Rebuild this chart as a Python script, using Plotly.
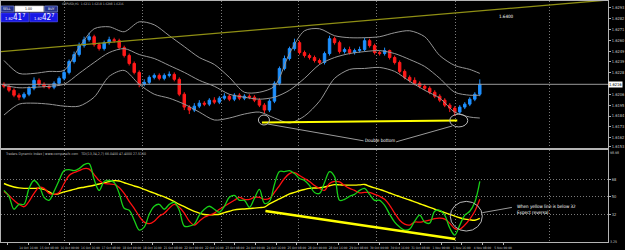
import numpy as np
import plotly.graph_objects as go

# ---------------- data: price panel (GBPUSD) ----------------
open_ = [1.6216, 1.6214, 1.6210, 1.6205, 1.6203, 1.6206, 1.6212, 1.6220, 1.6216, 1.6214,
         1.6213, 1.6217, 1.6222, 1.6228, 1.6239, 1.6246, 1.6255, 1.6261, 1.6264, 1.6256,
         1.6252, 1.6258, 1.6261, 1.6260, 1.6253, 1.6245, 1.6237, 1.6228, 1.6216, 1.6218,
         1.6223, 1.6225, 1.6222, 1.6225, 1.6226, 1.6221, 1.6206, 1.6193, 1.6190, 1.6194,
         1.6197, 1.6196, 1.6200, 1.6198, 1.6202, 1.6204, 1.6201, 1.6205, 1.6202, 1.6204,
         1.6203, 1.6200, 1.6195, 1.6190, 1.6199, 1.6217, 1.6232, 1.6242, 1.6252, 1.6258,
         1.6248, 1.6245, 1.6243, 1.6240, 1.6238, 1.6247, 1.6262, 1.6258, 1.6249, 1.6251,
         1.6248, 1.6250, 1.6251, 1.6260, 1.6255, 1.6248, 1.6247, 1.6250, 1.6243, 1.6238,
         1.6229, 1.6223, 1.6220, 1.6217, 1.6214, 1.6212, 1.6208, 1.6204, 1.6200, 1.6195,
         1.6192, 1.6188, 1.6193, 1.6196, 1.6201, 1.6206]
close = [1.6214, 1.6210, 1.6205, 1.6203, 1.6206, 1.6212, 1.6220, 1.6216, 1.6214, 1.6213,
         1.6217, 1.6222, 1.6228, 1.6239, 1.6246, 1.6255, 1.6261, 1.6264, 1.6256, 1.6252,
         1.6258, 1.6261, 1.6260, 1.6253, 1.6245, 1.6237, 1.6228, 1.6216, 1.6218, 1.6223,
         1.6225, 1.6222, 1.6225, 1.6226, 1.6221, 1.6206, 1.6193, 1.6190, 1.6194, 1.6197,
         1.6196, 1.6200, 1.6198, 1.6202, 1.6204, 1.6201, 1.6205, 1.6202, 1.6204, 1.6203,
         1.6200, 1.6195, 1.6190, 1.6199, 1.6217, 1.6232, 1.6242, 1.6252, 1.6258, 1.6248,
         1.6245, 1.6243, 1.6240, 1.6238, 1.6247, 1.6262, 1.6258, 1.6249, 1.6251, 1.6248,
         1.6250, 1.6251, 1.6260, 1.6255, 1.6248, 1.6247, 1.6250, 1.6243, 1.6238, 1.6229,
         1.6223, 1.6220, 1.6217, 1.6214, 1.6212, 1.6208, 1.6204, 1.6200, 1.6195, 1.6192,
         1.6188, 1.6193, 1.6196, 1.6201, 1.6206, 1.6216]
high = [1.6218, 1.6216, 1.6212, 1.6207, 1.6208, 1.6214, 1.6223, 1.6222, 1.6218, 1.6216,
        1.6219, 1.6224, 1.6231, 1.6241, 1.6249, 1.6258, 1.6264, 1.6268, 1.6266, 1.6258,
        1.6260, 1.6264, 1.6263, 1.6262, 1.6255, 1.6247, 1.6239, 1.6230, 1.6221, 1.6225,
        1.6227, 1.6227, 1.6227, 1.6229, 1.6228, 1.6223, 1.6208, 1.6195, 1.6197, 1.6200,
        1.6199, 1.6202, 1.6203, 1.6204, 1.6207, 1.6206, 1.6207, 1.6207, 1.6206, 1.6206,
        1.6205, 1.6202, 1.6197, 1.6201, 1.6219, 1.6234, 1.6245, 1.6254, 1.6262, 1.6260,
        1.6250, 1.6247, 1.6245, 1.6242, 1.6249, 1.6265, 1.6264, 1.6260, 1.6253, 1.6254,
        1.6252, 1.6254, 1.6263, 1.6262, 1.6257, 1.6250, 1.6253, 1.6251, 1.6245, 1.6240,
        1.6231, 1.6225, 1.6223, 1.6219, 1.6216, 1.6214, 1.6210, 1.6206, 1.6202, 1.6197,
        1.6194, 1.6195, 1.6198, 1.6203, 1.6208, 1.6221]
low = [1.6212, 1.6208, 1.6203, 1.6200, 1.6201, 1.6204, 1.6210, 1.6214, 1.6212, 1.6211,
       1.6211, 1.6215, 1.6220, 1.6226, 1.6237, 1.6244, 1.6253, 1.6259, 1.6254, 1.6250,
       1.6250, 1.6256, 1.6258, 1.6251, 1.6243, 1.6235, 1.6226, 1.6213, 1.6214, 1.6216,
       1.6221, 1.6220, 1.6220, 1.6223, 1.6219, 1.6204, 1.6190, 1.6186, 1.6188, 1.6192,
       1.6194, 1.6194, 1.6196, 1.6196, 1.6200, 1.6199, 1.6199, 1.6200, 1.6200, 1.6201,
       1.6198, 1.6193, 1.6187, 1.6188, 1.6197, 1.6215, 1.6230, 1.6240, 1.6250, 1.6246,
       1.6243, 1.6241, 1.6238, 1.6236, 1.6236, 1.6245, 1.6256, 1.6247, 1.6247, 1.6246,
       1.6246, 1.6248, 1.6249, 1.6253, 1.6246, 1.6245, 1.6245, 1.6241, 1.6236, 1.6227,
       1.6221, 1.6218, 1.6215, 1.6212, 1.6210, 1.6206, 1.6202, 1.6198, 1.6193, 1.6188,
       1.6184, 1.6186, 1.6191, 1.6194, 1.6199, 1.6204]

# Bollinger bands read every third bar
bb_x = [0, 3, 6, 9, 12, 15, 18, 21, 24, 27, 30, 33, 36, 39, 42, 45, 48, 51, 54, 57,
        60, 63, 66, 69, 72, 75, 78, 81, 84, 87, 90, 93, 95]
bb_upper = [1.6240, 1.6227, 1.6227, 1.6229, 1.6230, 1.6253, 1.6272, 1.6274, 1.6269, 1.6279,
            1.6276, 1.6265, 1.6254, 1.6243, 1.6236, 1.6223, 1.6208, 1.6208, 1.6214, 1.6247,
            1.6270, 1.6272, 1.6265, 1.6263, 1.6263, 1.6264, 1.6268, 1.6270, 1.6264, 1.6245,
            1.6235, 1.6231, 1.6227]
bb_mid = [1.6215, 1.62125, 1.6213, 1.6214, 1.6216, 1.6227, 1.6238, 1.6248, 1.6252, 1.6246,
          1.6242, 1.6235, 1.6228, 1.6220, 1.6214, 1.6206, 1.6203, 1.6201, 1.6203, 1.6210,
          1.6222, 1.6236, 1.6243, 1.6247, 1.6249, 1.6250, 1.6247, 1.6241, 1.6234, 1.6222,
          1.6208, 1.6205, 1.6205]
bb_lower = [1.6185, 1.6196, 1.6197, 1.6196, 1.6194, 1.6194, 1.6203, 1.6224, 1.6230, 1.6216,
            1.6206, 1.6202, 1.6196, 1.6188, 1.6180, 1.6182, 1.6186, 1.6188, 1.6182, 1.6177,
            1.6184, 1.6199, 1.6222, 1.6231, 1.6232, 1.6233, 1.6229, 1.6219, 1.6210, 1.6202,
            1.6188, 1.6183, 1.6182]

# drawn objects on the price panel
trend_x = [-0.6, 120.6]
trend_y = [1.6249, 1.6301]
dbottom_x = [51.5, 90.5]
dbottom_y = [1.61775, 1.61795]
current_price = 1.6216
price_ticks = [1.6293, 1.6282, 1.6271, 1.6260, 1.6249, 1.6239, 1.6228,
               1.6206, 1.6195, 1.6184, 1.6173, 1.6162, 1.6153]

# ---------------- data: Traders Dynamic Index ----------------
tdi_green = [56.7, 50.5, 37.1, 42.2, 42.2, 58.8, 67.0, 61.8, 49.5, 46.4,
             55.7, 67.0, 77.3, 78.4, 77.3, 79.4, 83.5, 84.6, 68.0, 56.7,
             66.0, 67.0, 64.9, 53.6, 38.1, 36.0, 25.7, 15.4, 18.5, 31.9,
             40.2, 42.2, 37.1, 42.2, 44.3, 36.0, 19.5, 19.5, 21.6, 30.9,
             37.1, 40.2, 37.1, 34.0, 40.2, 49.5, 51.5, 46.4, 46.4, 39.1,
             48.4, 57.7, 43.3, 45.3, 62.9, 76.3, 76.3, 77.3, 74.2, 69.1,
             67.0, 61.8, 54.6, 53.6, 64.9, 76.3, 71.1, 46.4, 47.4, 50.5,
             52.6, 56.7, 58.8, 52.6, 46.4, 46.4, 41.2, 31.9, 23.7, 18.5,
             15.4, 16.4, 24.7, 30.9, 23.7, 22.6, 35.0, 36.0, 30.9, 17.5,
             10.2, 20.6, 30.9, 35.0, 44.3, 66.0]
tdi_red = [55.7, 51.5, 46.4, 42.2, 39.7, 45.3, 53.6, 59.8, 58.8, 53.6,
           52.6, 54.6, 63.9, 72.2, 75.3, 77.3, 79.4, 78.9, 73.2, 67.0,
           63.9, 63.4, 62.9, 59.8, 53.6, 45.3, 38.1, 29.9, 23.7, 22.1,
           24.7, 29.9, 33.0, 38.1, 42.2, 39.1, 33.0, 24.7, 20.6, 24.7,
           28.8, 30.9, 33.0, 37.1, 40.2, 43.3, 46.4, 49.5, 47.4, 47.4,
           49.5, 49.5, 47.4, 48.4, 54.6, 61.8, 69.1, 74.2, 75.3, 72.2,
           69.1, 66.0, 61.8, 58.8, 56.7, 63.9, 66.0, 65.5, 61.8, 58.8,
           56.7, 54.1, 54.6, 54.6, 52.6, 50.5, 47.4, 41.2, 33.0, 25.7,
           21.6, 20.6, 23.7, 23.7, 24.7, 25.7, 27.3, 27.8, 26.8, 22.6,
           17.0, 16.4, 20.6, 26.8, 35.0, 47.4]
tdi_yellow = [63.9, 61.8, 60.3, 59.3, 58.8, 58.8, 58.8, 58.8, 57.7, 55.1,
              52.6, 53.3, 55.1, 56.4, 57.7, 59.2, 60.0, 61.0, 62.1, 63.4,
              64.6, 65.8, 66.8, 66.5, 64.7, 62.9, 61.3, 59.8, 57.7, 55.7,
              53.8, 51.8, 50.0, 47.7, 45.0, 42.2, 39.8, 37.1, 34.8, 33.0,
              31.6, 31.2, 31.6, 31.9, 33.5, 35.0, 36.4, 37.1, 37.4, 37.8,
              38.3, 38.8, 39.3, 42.7, 45.3, 47.8, 50.5, 53.1, 54.6, 56.3,
              57.7, 58.8, 59.2, 59.4, 60.3, 61.6, 62.7, 62.5, 62.2, 62.2,
              62.2, 62.5, 62.9, 61.0, 59.3, 57.7, 56.0, 54.0, 52.0, 50.2,
              48.4, 46.7, 44.7, 42.8, 41.0, 39.1, 37.1, 35.3, 33.6, 31.8,
              29.9, 28.2, 26.8, 26.1, 25.7, 27.5]
diverg_x = [52.2, 90.1]
diverg_y = [35.3, 6.1]
tdi_levels = [32, 50, 68]

time_labels = ["14 Oct 2013", "14 Oct 16:00", "15 Oct 08:00", "16 Oct 00:00", "16 Oct 16:00",
               "17 Oct 08:00", "18 Oct 00:00", "18 Oct 16:00", "21 Oct 08:00", "22 Oct 00:00",
               "22 Oct 16:00", "23 Oct 08:00", "24 Oct 00:00", "24 Oct 16:00", "25 Oct 08:00",
               "28 Oct 00:00", "28 Oct 16:00", "29 Oct 08:00", "30 Oct 00:00", "30 Oct 16:00",
               "31 Oct 08:00", "1 Nov 00:00", "1 Nov 16:00", "4 Nov 08:00", "5 Nov 00:00"]

# ---------------- layout geometry ----------------
W, H = 625, 250
ML, MR, MT, MB = 0, 13, 0, 7
PW, PH = W - ML - MR, H - MT - MB
BAR_PX = 5.05
X0 = -3 / BAR_PX
X1 = X0 + PW / BAR_PX
bars = list(range(len(close)))
grid_idx = [(p - 3) / BAR_PX for p in (64, 143, 222, 300, 379, 458, 553)]
label_pos = [(7 + 20.8 * k - 3) / BAR_PX for k in range(len(time_labels))]


def px(x):
    return (x - ML) / PW


def py(y):
    return 1 - (y - MT) / PH


FONT = "Liberation Sans Narrow, DejaVu Sans Condensed, Liberation Sans, sans-serif"
AXC = "#c8c8c8"
GRID = "#7a7a7a"
GDASH = "1px,2px"

fig = go.Figure()

fig.add_trace(go.Candlestick(
    x=bars, open=open_, high=high, low=low, close=close,
    increasing=dict(line=dict(color="#1e90ff", width=1), fillcolor="#1e90ff"),
    decreasing=dict(line=dict(color="#ff1a1a", width=1), fillcolor="#ff1a1a"),
    whiskerwidth=0, xaxis="x", yaxis="y", showlegend=False, hoverinfo="skip"))

for band in (bb_upper, bb_mid, bb_lower):
    fig.add_trace(go.Scatter(x=bb_x, y=band, mode="lines", xaxis="x", yaxis="y",
                             line=dict(color="#969696", width=1, shape="spline", smoothing=0.8),
                             showlegend=False, hoverinfo="skip"))

fig.add_trace(go.Scatter(x=trend_x, y=trend_y, mode="lines", xaxis="x", yaxis="y",
                         line=dict(color="#8f8f14", width=1.3), showlegend=False, hoverinfo="skip"))
fig.add_trace(go.Scatter(x=dbottom_x, y=dbottom_y, mode="lines", xaxis="x", yaxis="y",
                         line=dict(color="#ffff00", width=2), showlegend=False, hoverinfo="skip"))

fig.add_trace(go.Scatter(x=bars, y=tdi_yellow, mode="lines", xaxis="x2", yaxis="y2",
                         line=dict(color="#ffff00", width=1.4, shape="spline"),
                         showlegend=False, hoverinfo="skip"))
fig.add_trace(go.Scatter(x=bars, y=tdi_red, mode="lines", xaxis="x2", yaxis="y2",
                         line=dict(color="#ff1010", width=1.3, shape="spline"),
                         showlegend=False, hoverinfo="skip"))
fig.add_trace(go.Scatter(x=bars, y=tdi_green, mode="lines", xaxis="x2", yaxis="y2",
                         line=dict(color="#18d018", width=1.3, shape="spline"),
                         showlegend=False, hoverinfo="skip"))
fig.add_trace(go.Scatter(x=diverg_x, y=diverg_y, mode="lines", xaxis="x2", yaxis="y2",
                         line=dict(color="#ffff00", width=2.5), showlegend=False, hoverinfo="skip"))

top_dom = [py(148), 1]
bot_dom = [0, py(150)]

axis_common = dict(range=[X0, X1], showline=True, mirror=True, linecolor="#b4b4b4",
                   linewidth=1, zeroline=False, fixedrange=True)

fig.update_layout(
    width=W, height=H, autosize=False,
    margin=dict(l=ML, r=MR, t=MT, b=MB, pad=0),
    paper_bgcolor="#000000", plot_bgcolor="#000000",
    font=dict(family=FONT, color=AXC, size=4),
    xaxis=dict(domain=[0, 1], anchor="y", tickvals=grid_idx, showticklabels=False, ticks="",
               showgrid=True, gridcolor=GRID, griddash=GDASH, gridwidth=1,
               rangeslider=dict(visible=False), **axis_common),
    yaxis=dict(domain=top_dom, anchor="x", side="right", range=[1.6152, 1.6300],
               tickvals=price_ticks, ticktext=[f"{v:.4f}" for v in price_ticks],
               tickfont=dict(size=4, color=AXC, family=FONT), ticks="outside", ticklen=2,
               tickcolor="#b4b4b4", showgrid=False, showline=True, mirror=True,
               linecolor="#b4b4b4", zeroline=False, fixedrange=True),
    xaxis2=dict(domain=[0, 1], anchor="y2", tickvals=label_pos, ticktext=time_labels,
                tickfont=dict(size=3.2, color=AXC, family=FONT), ticks="outside", ticklen=2,
                tickcolor="#b4b4b4", showgrid=False, tickangle=0,
                minor=dict(tickmode="array", tickvals=grid_idx, showgrid=True, gridcolor=GRID,
                           griddash=GDASH, gridwidth=1, ticks=""),
                **axis_common),
    yaxis2=dict(domain=bot_dom, anchor="x2", side="right", range=[3, 99],
                tickvals=tdi_levels, ticktext=[str(v) for v in tdi_levels],
                tickfont=dict(size=4, color=AXC, family=FONT), ticks="outside", ticklen=2,
                tickcolor="#b4b4b4", showgrid=True, gridcolor=GRID, griddash=GDASH,
                showline=True, mirror=True, linecolor="#b4b4b4", zeroline=False, fixedrange=True),
)

# current price line
fig.add_hline(y=current_price, line=dict(color="#9a9a9a", width=1), xref="x", yref="y")

shapes = []
# double bottom circles and connector lines
shapes.append(dict(type="circle", xref="x", yref="y", x0=50.8, x1=53.0, y0=1.6175, y1=1.6185,
                   line=dict(color="#b8b8b8", width=1)))
shapes.append(dict(type="circle", xref="x", yref="y", x0=89.0, x1=92.6, y0=1.6173, y1=1.6186,
                   line=dict(color="#b8b8b8", width=1)))
shapes.append(dict(type="line", xref="x", yref="y", x0=52.6, y0=1.6176, x1=71.8, y1=1.6159,
                   line=dict(color="#9a9a9a", width=1)))
shapes.append(dict(type="line", xref="x", yref="y", x0=78.3, y0=1.6158, x1=89.5, y1=1.6174,
                   line=dict(color="#9a9a9a", width=1)))
# TDI ellipse and connector
shapes.append(dict(type="circle", xref="x2", yref="y2", x0=89.1, x1=95.5, y0=14.4, y1=45.3,
                   line=dict(color="#b8b8b8", width=1)))
shapes.append(dict(type="line", xref="x2", yref="y2", x0=95.5, y0=33.5, x1=101.4, y1=39.0,
                   line=dict(color="#9a9a9a", width=1)))


# trade panel (top left)
def rect(x0, y0, x1, y1, fill, line):
    return dict(type="rect", xref="paper", yref="paper", x0=px(x0), x1=px(x1), y0=py(y1), y1=py(y0),
                fillcolor=fill, line=dict(color=line, width=0.6), layer="above")


shapes += [rect(0, 5, 13, 11, "#25338c", "#8ea0f0"),
           rect(14, 5, 43, 11, "#ffffff", "#c0c0c0"),
           rect(44, 5, 57, 11, "#25338c", "#8ea0f0"),
           rect(0, 12, 28, 21, "#1818e6", "#5a5aff"),
           rect(29, 12, 57, 21, "#1818e6", "#5a5aff")]
fig.update_layout(shapes=list(fig.layout.shapes) + shapes)

ann = []


def txt(x, y, t, size=4, color="#ffffff", xanchor="center", yanchor="middle", **kw):
    return dict(x=x, y=y, text=t, showarrow=False, xanchor=xanchor, yanchor=yanchor,
                font=dict(size=size, color=color, family=FONT), **kw)


ann.append(txt(px(6.5), py(8), "SELL", 3.5, xref="paper", yref="paper", borderpad=0))
ann.append(txt(px(28), py(8), "1.00", 3.5, color="#000000", xref="paper", yref="paper", borderpad=0))
ann.append(txt(px(50.5), py(8), "BUY", 3.5, xref="paper", yref="paper", borderpad=0))
ann.append(txt(px(14), py(16.5), "<span style='font-size:4px'>1.62</span>41<sup>7</sup>", 8,
               xref="paper", yref="paper", borderpad=0))
ann.append(txt(px(43), py(16.5), "<span style='font-size:4px'>1.62</span>42<sup>7</sup>", 8,
               xref="paper", yref="paper", borderpad=0))
ann.append(txt(px(60), py(0), "GBPUSD,H1  1.6211 1.6218 1.6208 1.6216", 3.2, color="#bdbdbd",
               xanchor="left", yanchor="top", xref="paper", yref="paper", borderpad=0))
ann.append(txt(px(2), py(150), "Traders Dynamic Index | www.compassfx.com   TDI(13,34,2,7) 66.0400 47.4000 27.5100",
               3.5, color="#bdbdbd", xanchor="left", yanchor="top", xref="paper", yref="paper"))
ann.append(txt(100.4, 1.6284, "1.6400", 4.5, xref="x", yref="y"))
ann.append(txt(75.0, 1.6159, "Double bottom", 4.5, xref="x", yref="y"))
ann.append(txt(102.0, 37.0, "When yellow line is below 32<br>Expect reversal", 4.5,
               xanchor="left", align="left", xref="x2", yref="y2"))
ann.append(txt(1.0, current_price, f"{current_price:.4f}", 4, color="#000000", xanchor="left",
               xref="paper", yref="y", bgcolor="#ffffff", borderpad=0))
ann.append(txt(1.002, 1.0, "98.98", 3.5, color=AXC, xanchor="left", yanchor="top",
               xref="paper", yref="y2 domain", borderpad=0))
ann.append(txt(1.002, 0.0, "3.25", 3.5, color=AXC, xanchor="left", yanchor="middle",
               xref="paper", yref="y2 domain", borderpad=0))
fig.update_layout(annotations=ann)

fig.write_html("out.html")
